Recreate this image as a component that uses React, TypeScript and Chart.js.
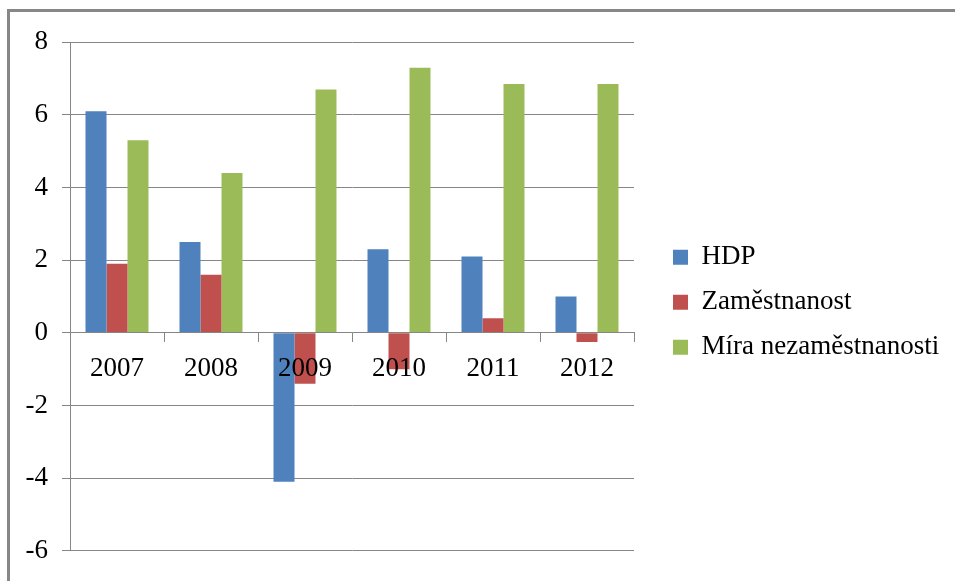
import React, { useEffect, useRef } from "react";
import { Chart, registerables } from "chart.js";

Chart.register(...registerables);

const categories = ["2007", "2008", "2009", "2010", "2011", "2012"];
const hdp = [6.1, 2.5, -4.1, 2.3, 2.1, 1.0];
const zamestnanost = [1.9, 1.6, -1.4, -1.0, 0.4, -0.25];
const miraNezamestnanosti = [5.3, 4.4, 6.7, 7.3, 6.85, 6.85];
const seriesNames = ["HDP", "Zaměstnanost", "Míra nezaměstnanosti"];
const seriesColors = ["#4F81BD", "#C0504D", "#9BBB59"];
const yMin = -6;
const yMax = 8;
const yStep = 2;

const FONT = '"Liberation Serif", "Times New Roman", serif';
const FS = 27;
const GRID = "#868686";
const CW = 945;
const CH = 569;

export default function App() {
  const ref = useRef<HTMLCanvasElement | null>(null);

  useEffect(() => {
    if (!ref.current) return;
    const chart = new Chart(ref.current, {
      type: "bar",
      data: {
        labels: categories,
        datasets: [hdp, zamestnanost, miraNezamestnanosti].map((d, i) => ({
          label: seriesNames[i],
          data: d,
          backgroundColor: seriesColors[i],
          borderWidth: 0,
          categoryPercentage: 0.67,
          barPercentage: 1,
        })),
      },
      options: {
        animation: false,
        responsive: false,
        devicePixelRatio: 1,
        layout: { padding: { top: 27.5, bottom: 24, left: 0, right: 10 } },
        plugins: {
          tooltip: { enabled: false },
          legend: {
            position: "right",
            maxWidth: 290,
            title: {
              display: true,
              text: "",
              font: { size: 1 },
              padding: { top: 3.5, bottom: 3.5 },
            },
            labels: {
              boxWidth: 15,
              boxHeight: 15,
              padding: 18,
              color: "#000",
              font: { family: FONT, size: FS },
            },
          },
        },
        scales: {
          x: {
            type: "category",
            position: { y: 0 } as any,
            offset: true,
            grid: {
              display: true,
              offset: true,
              drawOnChartArea: false,
              drawTicks: true,
              tickLength: 9,
              color: GRID,
              z: 1,
            },
            border: { display: true, color: GRID, width: 1, z: 1 },
            ticks: {
              color: "#000",
              font: { family: FONT, size: FS },
              padding: 11,
              maxRotation: 0,
              autoSkip: false,
              z: 2,
            },
          },
          y: {
            min: yMin,
            max: yMax,
            position: "left",
            grid: { color: GRID, tickLength: 8, drawTicks: true },
            border: { display: true, color: GRID, width: 1 },
            ticks: {
              stepSize: yStep,
              color: "#000",
              font: { family: FONT, size: FS },
              padding: 14,
            },
            afterFit: (s: any) => {
              s.width = 60;
            },
          },
          y2: {
            position: "right",
            display: true,
            grid: { display: false, drawTicks: false },
            border: { display: false },
            ticks: { display: false },
            afterFit: (s: any) => {
              s.width = 21;
            },
          },
        },
      } as any,
    });
    return () => chart.destroy();
  }, []);

  return (
    <div
      style={{
        position: "fixed",
        left: 7,
        top: 9,
        border: "3px solid #878787",
        width: CW + 20,
        height: CH + 20,
        background: "#fff",
      }}
    >
      <canvas ref={ref} width={CW} height={CH} style={{ display: "block" }} />
    </div>
  );
}
